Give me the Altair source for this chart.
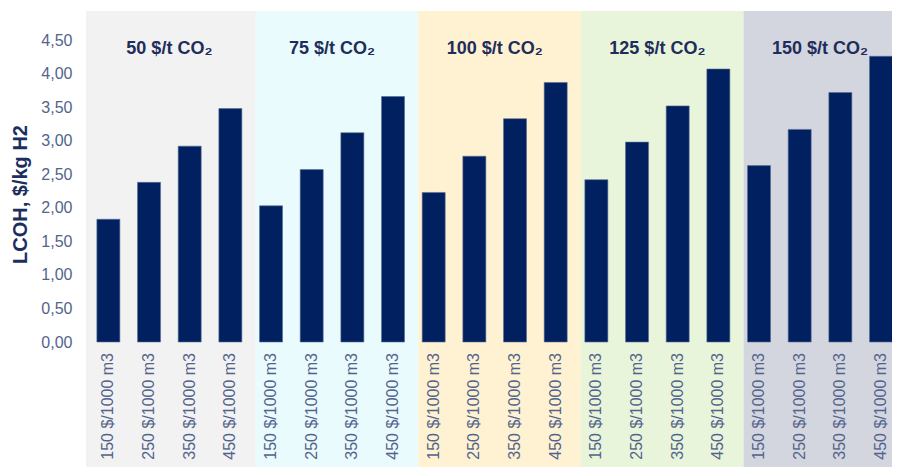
import altair as alt
import pandas as pd

groups = ["50 $/t CO₂", "75 $/t CO₂", "100 $/t CO₂", "125 $/t CO₂", "150 $/t CO₂"]
gas_prices = ["150 $/1000 m3", "250 $/1000 m3", "350 $/1000 m3", "450 $/1000 m3"]
values = [
    [1.83, 2.38, 2.92, 3.48],
    [2.03, 2.57, 3.12, 3.66],
    [2.23, 2.77, 3.33, 3.87],
    [2.42, 2.98, 3.52, 4.07],
    [2.63, 3.17, 3.72, 4.26],
]
band_colors = ["#f2f2f2", "#eafbfd", "#fff2d2", "#e8f5db", "#d3d6df"]

rows = []
for g, grp in enumerate(groups):
    for i, gp in enumerate(gas_prices):
        rows.append({"idx": g * 4 + i, "group": grp, "gas": gp, "value": values[g][i]})
bars_df = pd.DataFrame(rows)

XMIN, XMAX = -0.55, 19.27
n = len(groups)
bands_df = pd.DataFrame({
    "group": groups,
    "start": [XMIN if g == 0 else g * 4 - 0.38 for g in range(n)],
    "end": [g * 4 + 3.62 if g < n - 1 else XMAX + 1 for g in range(n)],
    "center": [g * 4 + 1.5 for g in range(n)],
    "color": band_colors,
})

FONT = "Liberation Sans"
NAVY = "#002060"
LABEL = "#53648c"
W, H = 806, 330

xscale = alt.Scale(domain=[XMIN, XMAX], nice=False, zero=False, padding=0)
yscale = alt.Scale(domain=[0, 4.92], nice=False)

bands = alt.Chart(bands_df).mark_rect().encode(
    x=alt.X("start:Q", scale=xscale, axis=None),
    x2="end:Q",
    y=alt.value(-1),
    y2=alt.value(H + 130),
    color=alt.Color("color:N", scale=None),
)

bars = alt.Chart(bars_df).mark_bar(size=23, color=NAVY, stroke="#5a6c95", strokeWidth=0.6).encode(
    x=alt.X(
        "idx:Q",
        scale=xscale,
        axis=alt.Axis(
            labels=False,
            ticks=False,
            grid=False,
            domainColor="#7a89a8",
            domainWidth=1.5,
            title=None,
            zindex=1,
        ),
    ),
    y=alt.Y(
        "value:Q",
        scale=yscale,
        axis=alt.Axis(
            values=[0, 0.5, 1, 1.5, 2, 2.5, 3, 3.5, 4, 4.5],
            labelExpr="replace(format(datum.value, '.2f'), '.', ',')",
            labelFont=FONT,
            labelFontSize=16,
            labelColor=LABEL,
            labelPadding=14,
            ticks=False,
            grid=False,
            domain=False,
            title="LCOH, $/kg H2",
            titleFont=FONT,
            titleFontSize=20,
            titleFontWeight="bold",
            titleColor="#1c2e5e",
            titlePadding=10,
            titleY=182,
            zindex=1,
        ),
    ),
)

xlabels = alt.Chart(bars_df).mark_text(
    font=FONT, fontSize=16, color=LABEL, angle=270, align="right", baseline="middle"
).encode(
    x=alt.X("idx:Q", scale=xscale),
    y=alt.value(H + 11),
    text="gas:N",
)

titles = alt.Chart(bands_df).mark_text(
    font=FONT, fontSize=18, fontWeight="bold", color="#1f2d5a", baseline="middle"
).encode(
    x=alt.X("center:Q", scale=xscale),
    y=alt.value(37),
    text="group:N",
)

chart = alt.layer(bands, bars, xlabels, titles).properties(
    width=W,
    height=H,
    autosize=alt.AutoSizeParams(type="none"),
    padding={"left": 78, "top": 4, "right": 0, "bottom": 126},
).configure_view(stroke=None).configure(background="white")

chart.save("out.html", embed_options={"renderer": "svg", "actions": False})
